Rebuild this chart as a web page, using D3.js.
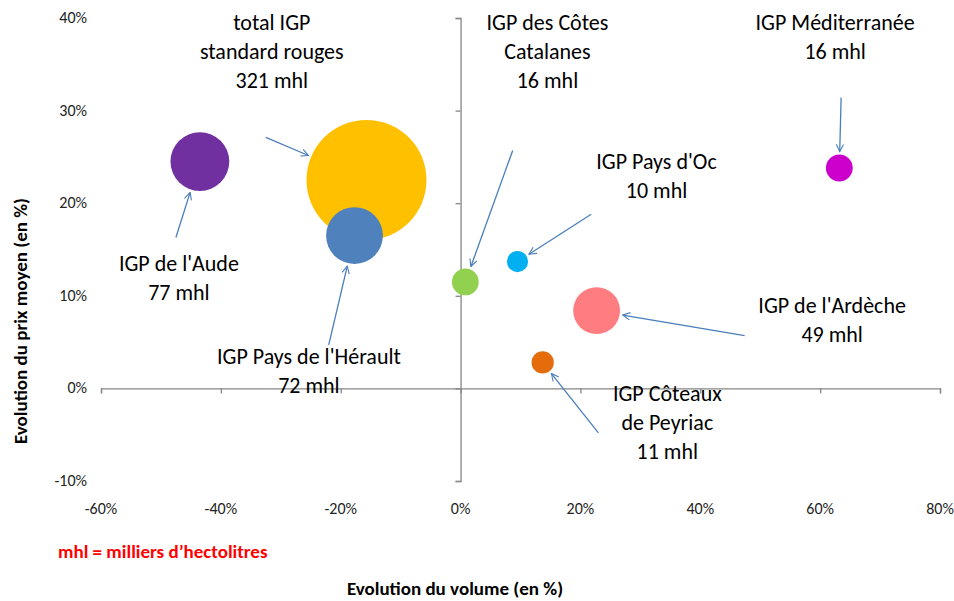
<!DOCTYPE html>
<html>
<head>
<meta charset="utf-8">
<script src="https://cdn.jsdelivr.net/npm/d3@7"></script>
<style>
  html, body { margin: 0; padding: 0; background: #fff; }
  svg { display: block; font-family: Carlito, Lato, "Liberation Sans", sans-serif; }
</style>
</head>
<body>
<div id="chart"></div>
<script>
// --------------- Data ---------------
const names = ["IGP de l'Aude", "total IGP standard rouges", "IGP Pays de l'Hérault", "IGP des Côtes Catalanes",
  "IGP Pays d'Oc", "IGP de l'Ardèche", "IGP Côteaux de Peyriac", "IGP Méditerranée"];
const volumeChange = [-0.435, -0.157, -0.177, 0.008, 0.095, 0.227, 0.137, 0.632];
const priceChange = [0.245, 0.225, 0.165, 0.115, 0.137, 0.084, 0.028, 0.238];
const volumes = [77, 321, 72, 16, 10, 49, 11, 16];
const colors = ["#7030A0", "#FFC000", "#4F81BD", "#92D050", "#00B0F0", "#FF7C80", "#E46C0A", "#CC00CC"];

// label lines and where the label sits / arrow starts (in data units)
const labelLines = [
  ["IGP de l'Aude", "77 mhl"],
  ["total IGP", "standard rouges", "321 mhl"],
  ["IGP Pays de l'Hérault", "72 mhl"],
  ["IGP des Côtes", "Catalanes", "16 mhl"],
  ["IGP Pays d'Oc", "10 mhl"],
  ["IGP de l'Ardèche", "49 mhl"],
  ["IGP Côteaux", "de Peyriac", "11 mhl"],
  ["IGP Méditerranée", "16 mhl"]
];
const labelX = [-0.47, -0.315, -0.253, 0.145, 0.327, 0.620, 0.345, 0.625];
const labelY = [0.135, 0.395, 0.035, 0.395, 0.245, 0.090, -0.005, 0.395];
const arrowFromX = [-0.475, -0.325, -0.22, 0.087, 0.218, 0.474, 0.230, 0.635];
const arrowFromY = [0.163, 0.271, 0.047, 0.257, 0.188, 0.057, -0.048, 0.314];

const xTicks = [-0.6, -0.4, -0.2, 0, 0.2, 0.4, 0.6, 0.8];
const yTicks = [-0.1, 0, 0.1, 0.2, 0.3, 0.4];

// --------------- Layout ---------------
const WIDTH = 954;
const HEIGHT = 601;
const AXIS_COLOR = "#868686";
const ARROW_COLOR = "#4A7EBB";

const x = d3.scaleLinear().domain([-0.6, 0.8]).range([101, 940]);
const y = d3.scaleLinear().domain([-0.1, 0.4]).range([481, 18]);
const r = d3.scaleSqrt().domain([0, 321]).range([0, 60]);
const pct = d => Math.round(d * 100) + "%";

const svg = d3.select("#chart").append("svg")
  .attr("width", WIDTH)
  .attr("height", HEIGHT);

const defs = svg.append("defs");
defs.append("marker")
  .attr("id", "arrow")
  .attr("viewBox", "0 0 10 10")
  .attr("refX", 9)
  .attr("refY", 5)
  .attr("markerWidth", 7)
  .attr("markerHeight", 7)
  .attr("markerUnits", "strokeWidth")
  .attr("orient", "auto")
  .append("path")
  .attr("d", "M1,1 L9,5 L1,9")
  .attr("fill", "none")
  .attr("stroke", ARROW_COLOR)
  .attr("stroke-width", 1.2);

// --------------- Axes ---------------
const xAxis = svg.append("g")
  .attr("transform", `translate(0,${y(0)})`)
  .call(d3.axisBottom(x).tickValues(xTicks).tickSize(5).tickFormat(""));
const yAxis = svg.append("g")
  .attr("transform", `translate(${x(0)},0)`)
  .call(d3.axisLeft(y).tickValues(yTicks).tickSize(5).tickFormat(""));
[xAxis, yAxis].forEach(a => {
  a.select(".domain").attr("stroke", AXIS_COLOR).attr("stroke-width", 1.3);
  a.selectAll(".tick line").attr("stroke", AXIS_COLOR).attr("stroke-width", 1.3);
});

// tick labels sit at the low edge of the plot (Excel "low" position)
svg.append("g").selectAll("text")
  .data(xTicks)
  .join("text")
  .attr("x", d => x(d))
  .attr("y", 514)
  .attr("text-anchor", "middle")
  .attr("font-size", 16)
  .attr("fill", "#222")
  .text(d => pct(d));

svg.append("g").selectAll("text")
  .data(yTicks)
  .join("text")
  .attr("x", 87)
  .attr("y", d => y(d) + 5)
  .attr("text-anchor", "end")
  .attr("font-size", 16)
  .attr("fill", "#222")
  .text(d => pct(d));

// --------------- Bubbles ---------------
const order = d3.range(names.length).sort((a, b) => volumes[b] - volumes[a]);
svg.append("g").selectAll("circle")
  .data(order)
  .join("circle")
  .attr("cx", i => x(volumeChange[i]))
  .attr("cy", i => y(priceChange[i]))
  .attr("r", i => r(volumes[i]))
  .attr("fill", i => colors[i]);

// --------------- Arrows ---------------
// arrow ends just outside the bubble edge
const arrowEnd = i => {
  const x1 = x(arrowFromX[i]), y1 = y(arrowFromY[i]);
  const cx = x(volumeChange[i]), cy = y(priceChange[i]);
  const d = Math.hypot(cx - x1, cy - y1);
  const k = (r(volumes[i]) + 3) / d;
  return [cx - (cx - x1) * k, cy - (cy - y1) * k];
};

svg.append("g").selectAll("line")
  .data(d3.range(names.length))
  .join("line")
  .attr("x1", i => x(arrowFromX[i]))
  .attr("y1", i => y(arrowFromY[i]))
  .attr("x2", i => arrowEnd(i)[0])
  .attr("y2", i => arrowEnd(i)[1])
  .attr("stroke", ARROW_COLOR)
  .attr("stroke-width", 1.3)
  .attr("marker-end", "url(#arrow)");

// --------------- Labels ---------------
const labels = svg.append("g").selectAll("text")
  .data(d3.range(names.length))
  .join("text")
  .attr("x", i => x(labelX[i]))
  .attr("y", i => y(labelY[i]))
  .attr("text-anchor", "middle")
  .attr("font-size", 22)
  .attr("fill", "#000");
labels.selectAll("tspan")
  .data(i => labelLines[i].map(t => ({ t, i })))
  .join("tspan")
  .attr("x", d => x(labelX[d.i]))
  .attr("dy", (d, k) => k === 0 ? "0.35em" : 29)
  .text(d => d.t);

// --------------- Titles ---------------
svg.append("text")
  .attr("transform", "translate(27,321) rotate(-90)")
  .attr("text-anchor", "middle")
  .attr("font-size", 19)
  .attr("font-weight", "bold")
  .text("Evolution du prix moyen (en %)");

svg.append("text")
  .attr("x", 455)
  .attr("y", 595)
  .attr("text-anchor", "middle")
  .attr("font-size", 19)
  .attr("font-weight", "bold")
  .text("Evolution du volume (en %)");

svg.append("text")
  .attr("x", 58)
  .attr("y", 558)
  .attr("font-size", 19)
  .attr("font-weight", "bold")
  .attr("fill", "#FF0000")
  .text("mhl = milliers d’hectolitres");
</script>
</body>
</html>
